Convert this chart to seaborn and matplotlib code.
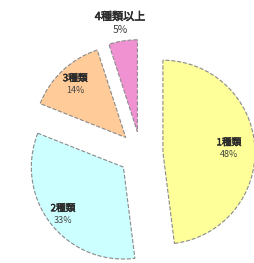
import numpy as np
import matplotlib
matplotlib.use("Agg")
import matplotlib.pyplot as plt
import matplotlib.patheffects as pe
import seaborn as sns

# data
categories = ["1種類", "2種類", "3種類", "4種類以上"]
shares = [48, 33, 14, 5]
colors = ["#FFFF99", "#CCFFFF", "#FFCC99", "#F092D2"]
label_dist = [0.72, 0.83, 0.80, 1.20]
label_size = [7, 7, 7, 8]

sns.set_theme(style="white")
plt.rcParams["font.family"] = ["Noto Sans CJK JP", "DejaVu Sans"]

fig = plt.figure(figsize=(2.55, 2.63), dpi=100)
ax = fig.add_axes([0, 0, 1, 1])

wedges, _ = ax.pie(
    shares,
    colors=colors,
    startangle=90,
    counterclock=False,
    explode=[0.24] * len(shares),
    radius=1.0,
    wedgeprops={"edgecolor": "#8a8a8a", "linewidth": 0.8, "linestyle": "--"},
)

for w, name, pct, d, fs in zip(wedges, categories, shares, label_dist, label_size):
    mid = np.deg2rad((w.theta1 + w.theta2) / 2)
    cx, cy = w.center
    x = cx + d * np.cos(mid)
    y = cy + d * np.sin(mid)
    ax.annotate(name, (x, y), xytext=(0, 0.5), textcoords="offset points",
                ha="center", va="bottom", fontsize=fs, color="#2a2a2a",
                path_effects=[pe.withStroke(linewidth=0.4, foreground="#2a2a2a")])
    ax.annotate(f"{pct}%", (x, y), xytext=(0, -1.5), textcoords="offset points",
                ha="center", va="top", fontsize=fs - 0.5, color="#444444")

ax.set_xlim(-1.53, 1.24)
ax.set_ylim(-1.19, 1.67)
ax.set_aspect("auto")
ax.axis("off")

fig.savefig("out.png", dpi=100, facecolor="white")
plt.close(fig)
